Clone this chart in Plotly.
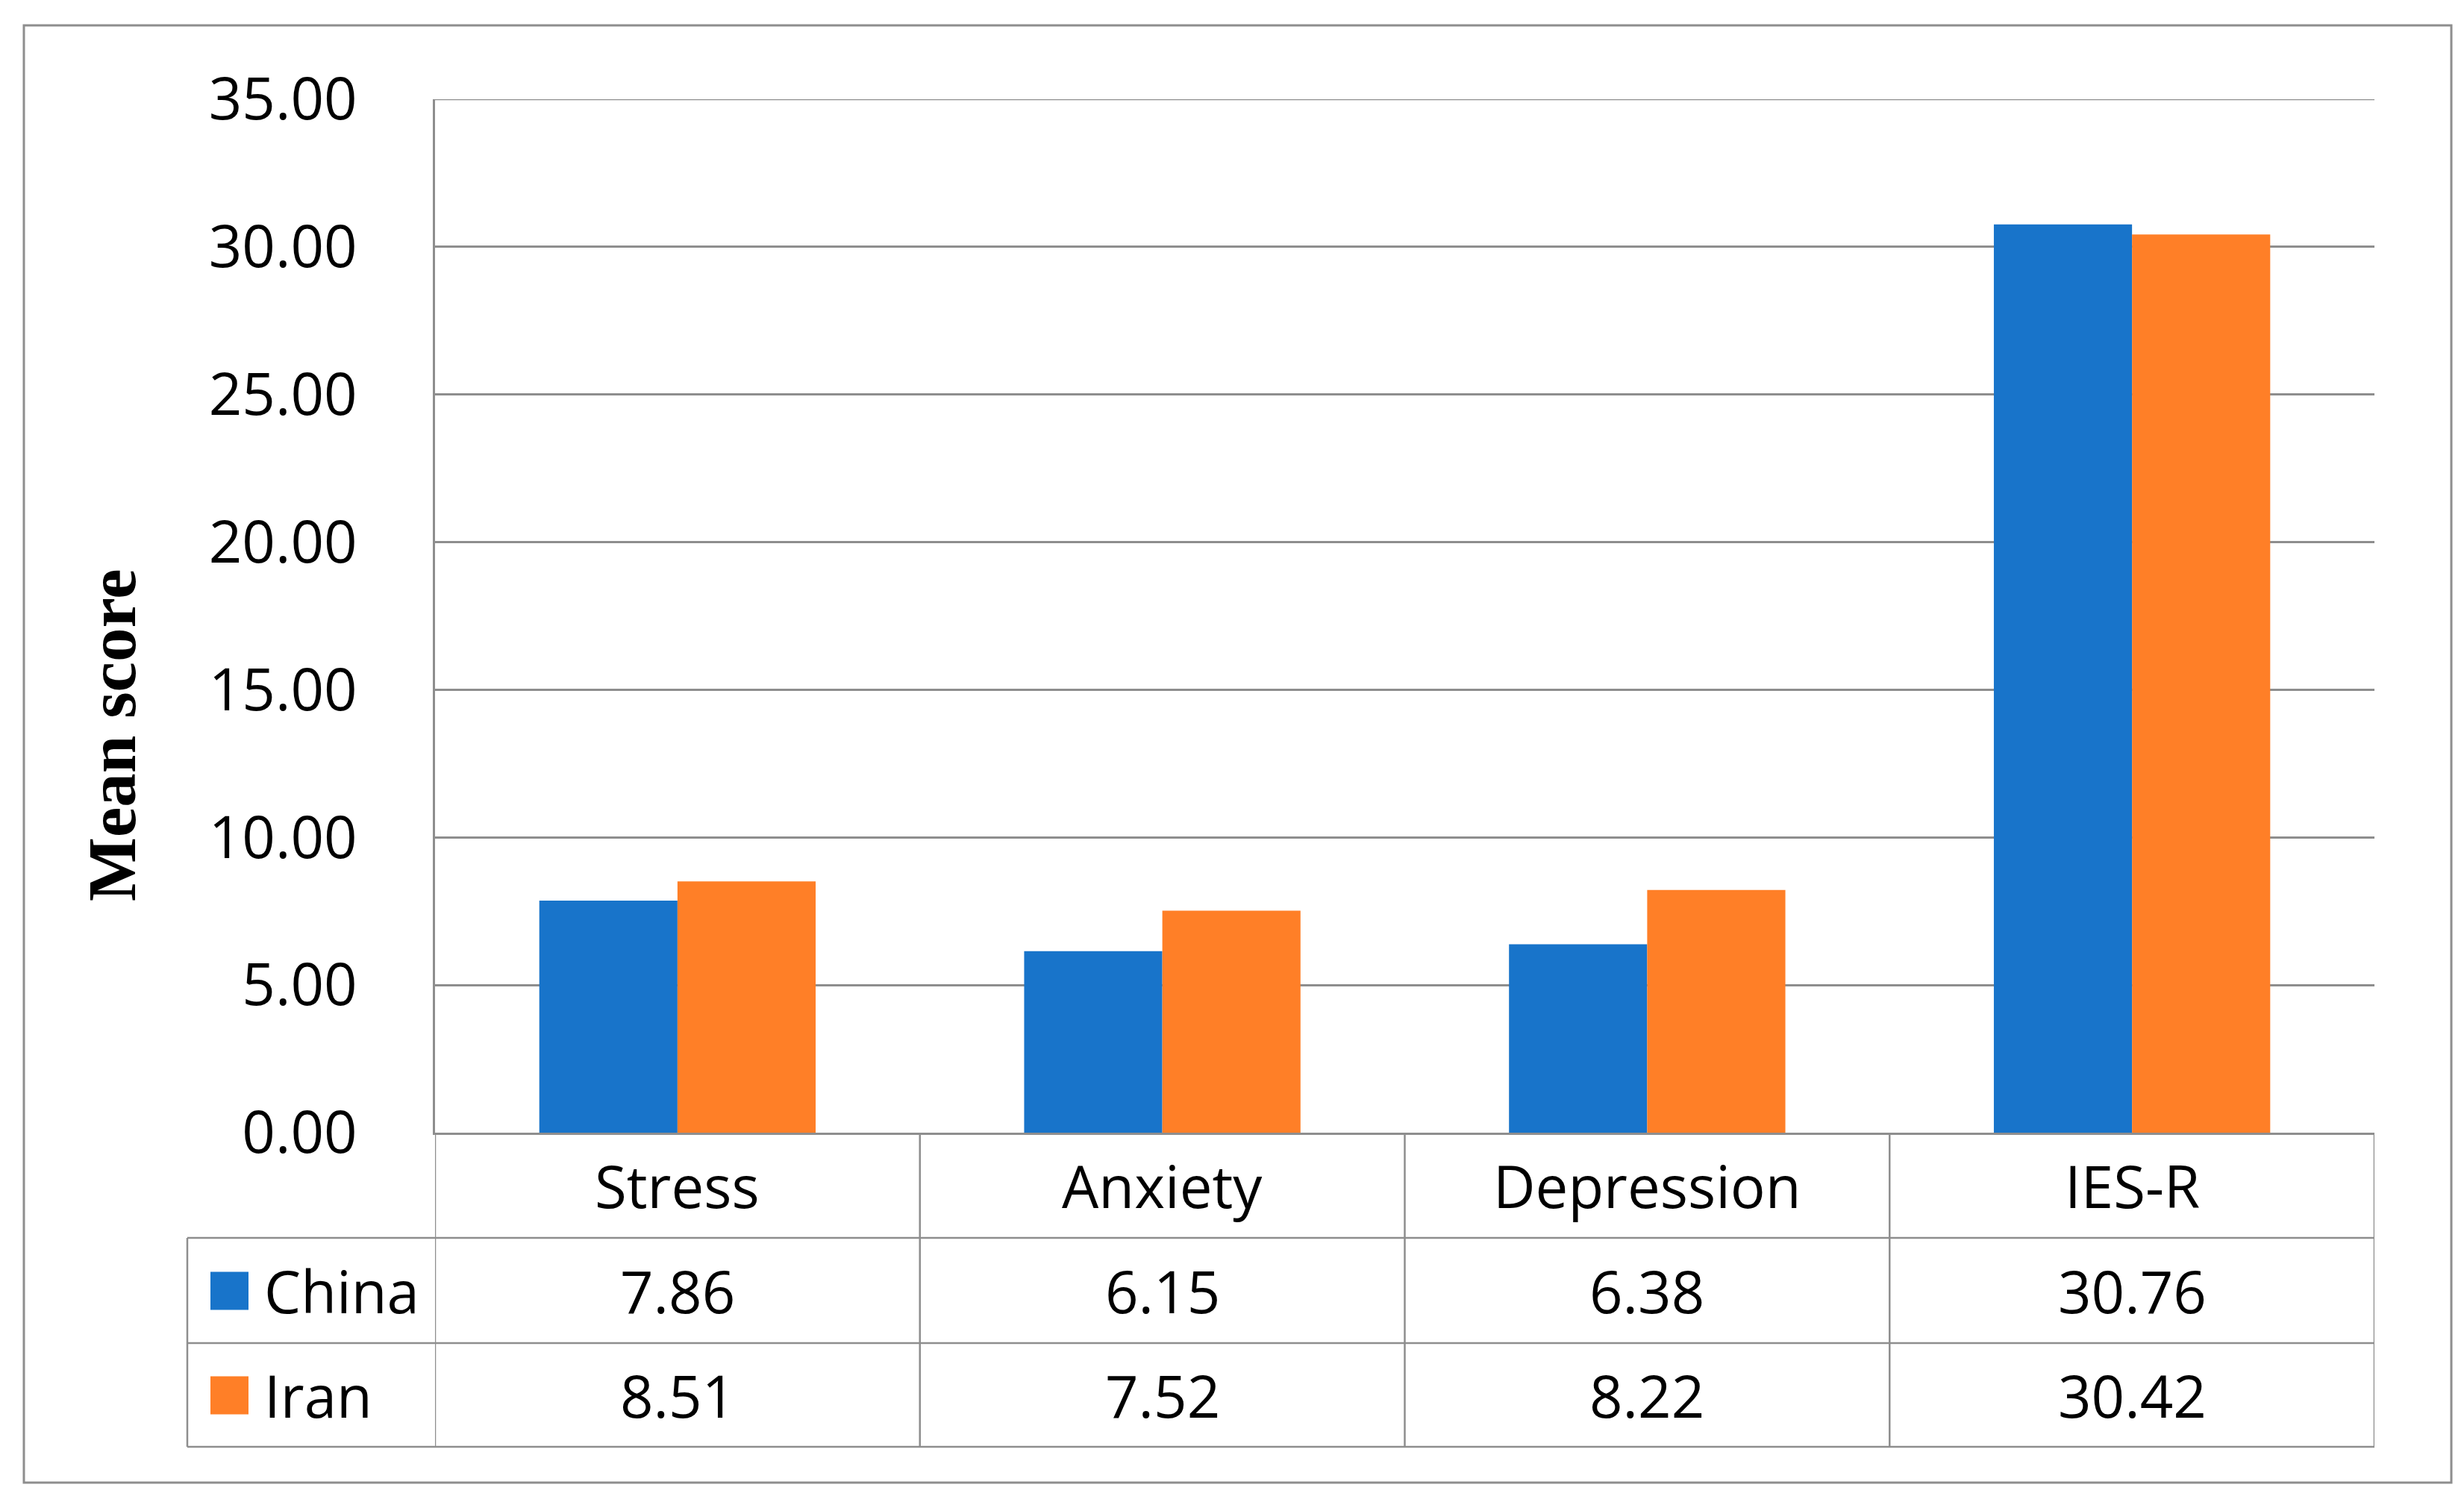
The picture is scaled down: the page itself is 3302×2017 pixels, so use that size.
import plotly.graph_objects as go

categories = ["Stress", "Anxiety", "Depression", "IES-R"]
series_names = ["China", "Iran"]
china = [7.86, 6.15, 6.38, 30.76]
iran = [8.51, 7.52, 8.22, 30.42]
colors = ["#1874CA", "#FF7F27"]
y_title = "Mean score"
y_ticks = [0, 5, 10, 15, 20, 25, 30, 35]

W, H = 3302, 2017
L, R, T, B = 583, 3182, 133, 1518  # plot area pixels
GRAY = "#8E8E8E"
FONT = "Open Sans, Segoe UI, DejaVu Sans, sans-serif"
FS = 78


def px(xp):
    return (xp - L) / (R - L)


def py(yp):
    return (B - yp) / (B - T)


row_edges = [1518, 1659, 1800, 1939]
legend_left = 251

fig = go.Figure()
for name, vals, col in zip(series_names, [china, iran], colors):
    fig.add_trace(go.Bar(x=categories, y=vals, name=name,
                         marker=dict(color=col, line=dict(width=0))))

shapes = []
# outer border
shapes.append(dict(type="rect", xref="paper", yref="paper",
                   x0=px(32), x1=px(3285), y0=py(34), y1=py(1987),
                   line=dict(color=GRAY, width=3), layer="below"))
# top gridline (at the axis maximum)
shapes.append(dict(type="line", xref="paper", yref="y",
                   x0=0, x1=1, y0=max(y_ticks), y1=max(y_ticks),
                   line=dict(color=GRAY, width=2.5), layer="below"))
# horizontal table lines
for yy in row_edges[1:]:
    shapes.append(dict(type="line", xref="paper", yref="paper",
                       x0=px(legend_left), x1=1, y0=py(yy), y1=py(yy),
                       line=dict(color=GRAY, width=2.5)))
# legend column left line
shapes.append(dict(type="line", xref="paper", yref="paper",
                   x0=px(legend_left), x1=px(legend_left),
                   y0=py(row_edges[1]), y1=py(row_edges[-1]),
                   line=dict(color=GRAY, width=2.5)))
# vertical column lines at category boundaries
for i in range(len(categories) + 1):
    shapes.append(dict(type="line", xref="x", yref="paper",
                       x0=i - 0.5, x1=i - 0.5,
                       y0=py(row_edges[0]), y1=py(row_edges[-1]),
                       line=dict(color=GRAY, width=2.5)))

annotations = []
txtfont = dict(family=FONT, size=FS, color="black")
# header
hy = (row_edges[0] + row_edges[1]) / 2
for c in categories:
    annotations.append(dict(x=c, xref="x", y=py(hy), yref="paper",
                            xanchor="center", yanchor="middle",
                            text=c, showarrow=False, font=txtfont))
# rows
for r, (name, vals, col) in enumerate(zip(series_names, [china, iran], colors)):
    cy = (row_edges[r + 1] + row_edges[r + 2]) / 2
    for c, v in zip(categories, vals):
        annotations.append(dict(x=c, xref="x", y=py(cy), yref="paper",
                                xanchor="center", yanchor="middle",
                                text=f"{v:.2f}", showarrow=False, font=txtfont))
    annotations.append(dict(x=px(352), xref="paper", y=py(cy), yref="paper",
                            text=name, showarrow=False,
                            xanchor="left", yanchor="middle", font=txtfont))
    shapes.append(dict(type="rect", xref="paper", yref="paper",
                       x0=px(282), x1=px(333), y0=py(cy - 25), y1=py(cy + 26),
                       fillcolor=col, line=dict(width=0)))

annotations.append(dict(x=px(150), xref="paper", y=py(985), yref="paper",
                        xanchor="center", yanchor="middle",
                        text=f"<b>{y_title}</b>", showarrow=False, textangle=-90,
                        font=dict(family="Liberation Serif, Times New Roman, serif",
                                  size=91, color="black")))

fig.update_layout(
    width=W, height=H,
    margin=dict(l=L, r=W - R, t=T, b=H - B, pad=0),
    paper_bgcolor="white", plot_bgcolor="white",
    barmode="group", bargap=0.43, bargroupgap=0,
    showlegend=False,
    shapes=shapes, annotations=annotations,
    xaxis=dict(range=[-0.5, len(categories) - 0.5], showticklabels=False,
               showgrid=False, zeroline=False, showline=True,
               linecolor=GRAY, linewidth=2.5, ticks=""),
    yaxis=dict(range=[0, 35], tickvals=y_ticks,
               tickformat=".2f",
               showgrid=True, gridcolor=GRAY, gridwidth=2.5,
               zeroline=False, showline=True, linecolor=GRAY, linewidth=2.5,
               ticks="", ticklabelstandoff=86,
               tickfont=dict(family=FONT, size=FS, color="black")),
)

fig.write_html("out.html", config={"displayModeBar": False},
               post_script="document.body.style.margin='0';")
